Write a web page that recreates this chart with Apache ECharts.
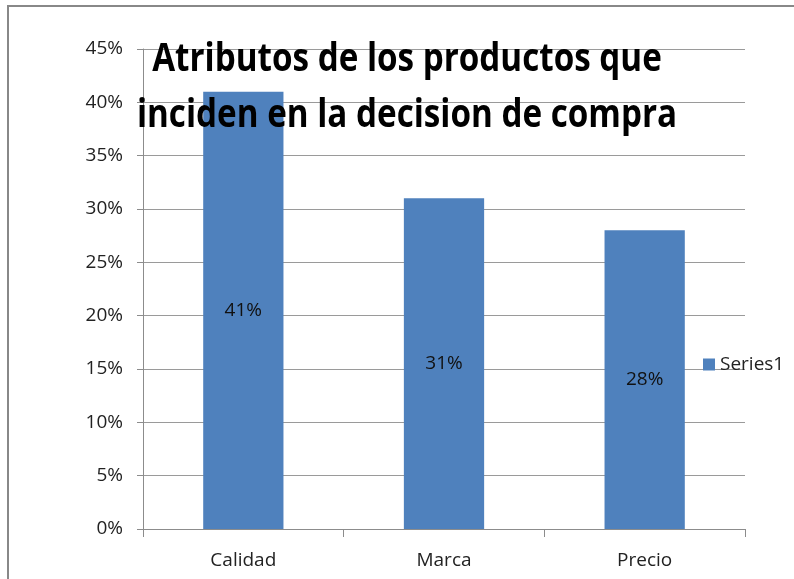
<!DOCTYPE html>
<html>
<head>
<meta charset="utf-8">
<script src="https://cdn.jsdelivr.net/npm/echarts@6/dist/echarts.min.js"></script>
<style>
  html, body { margin: 0; padding: 0; background: #fff; }
  #chart { width: 794px; height: 579px; }
</style>
</head>
<body>
<div id="chart"></div>
<script>
const categories = ['Calidad', 'Marca', 'Precio']
const series1 = [41, 31, 28]
const titleText = 'Atributos de los productos que\ninciden en la decision de compra'
const fontFamily = '"Open Sans", sans-serif'

const chart = echarts.init(document.getElementById('chart'))
chart.setOption({
  animation: false,
  backgroundColor: '#fff',
  grid: {
    left: 143,
    right: 49,
    top: 49,
    bottom: 50
  },
  legend: {
    data: ['Series1'],
    orient: 'vertical',
    left: 698,
    top: 350,
    icon: 'rect',
    itemWidth: 12,
    itemHeight: 12,
    itemGap: 6,
    textStyle: { fontFamily, fontSize: 19, color: '#222' }
  },
  xAxis: {
    type: 'category',
    data: categories,
    axisLine: { lineStyle: { color: '#8c8c8c', width: 1 } },
    axisTick: { show: true, length: 8, lineStyle: { color: '#8c8c8c' } },
    axisLabel: { fontFamily, fontSize: 19, color: '#222', margin: 22 }
  },
  yAxis: {
    type: 'value',
    min: 0,
    max: 45,
    interval: 5,
    axisLine: { show: true, lineStyle: { color: '#8c8c8c', width: 1 } },
    axisTick: { show: true, length: 6, lineStyle: { color: '#8c8c8c' } },
    axisLabel: { formatter: '{value}%', fontFamily, fontSize: 19, color: '#222', margin: 20 },
    splitLine: { lineStyle: { color: '#9a9a9a', width: 1 } }
  },
  series: [{
    name: 'Series1',
    type: 'bar',
    data: series1,
    barWidth: '40%',
    itemStyle: { color: '#4f81bd' },
    label: {
      show: true,
      position: 'inside',
      formatter: '{c}%',
      fontFamily,
      fontSize: 19,
      color: '#111'
    }
  }],
  graphic: [
    {
      type: 'rect',
      shape: { x: 8, y: 6, width: 1000, height: 1000 },
      style: { fill: 'none', stroke: '#888', lineWidth: 2 },
      z: 0
    },
    {
      // Calibri is narrow; squeeze the bold title horizontally to match
      type: 'text',
      x: 407,
      y: 32,
      scaleX: 0.83,
      z: 100,
      style: {
        text: titleText,
        textAlign: 'center',
        textVerticalAlign: 'top',
        fontFamily,
        fontWeight: 'bold',
        fontSize: 40,
        lineHeight: 56,
        fill: '#000'
      }
    }
  ]
})
</script>
</body>
</html>
